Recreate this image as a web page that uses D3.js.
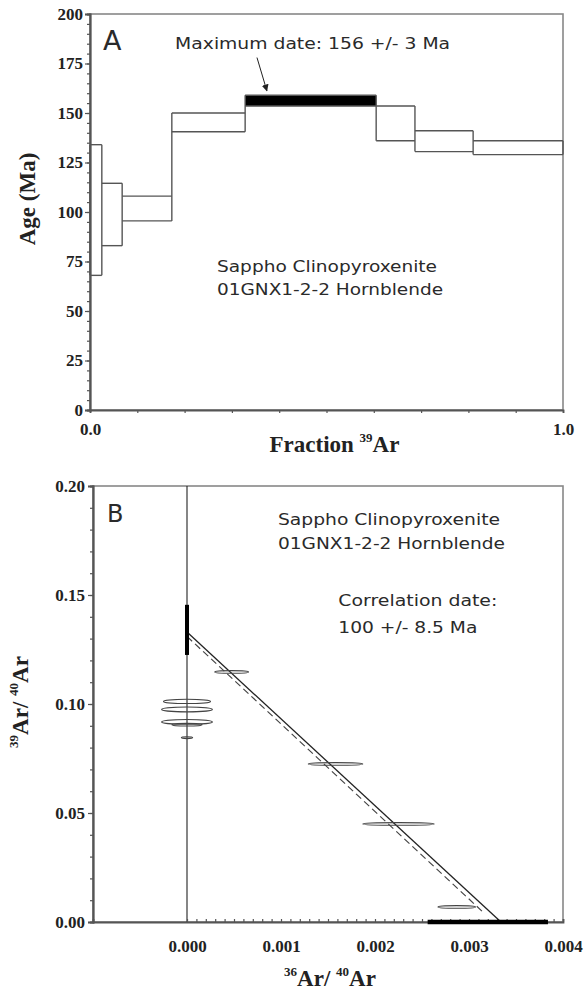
<!DOCTYPE html>
<html>
<head>
<meta charset="utf-8">
<script src="https://cdn.jsdelivr.net/npm/d3@7"></script>
<style>
body { margin: 0; background: #fff; }
svg { display: block; }
.serif { font-family: "Liberation Serif", "Times New Roman", serif; font-weight: bold; fill: #222; }
.note { font-family: "DejaVu Sans", "Noto Sans", sans-serif; fill: #2a2a2a; }
</style>
</head>
<body>
<script>
// ===== A: age spectrum =====
const stepEdges = [0, 0.025, 0.068, 0.173, 0.328, 0.605, 0.687, 0.810, 1.0];
const ageHigh = [134, 114.5, 108, 150, 159, 153.5, 141, 136];
const ageLow = [68, 83, 95.5, 140.5, 153.5, 136, 130.5, 129];
const plateauStep = 4;
const ageTicks = [0, 25, 50, 75, 100, 125, 150, 175, 200];
const fracTicks = d3.range(11).map(i => i / 10);
const fracLabels = [0, 1];

// ===== B: isochron correlation =====
const isoX = [0, 0, 0, 0, 0, 0.000475, 0.00158, 0.00225, 0.00287];
const isoY = [0.1012, 0.0975, 0.0918, 0.0905, 0.0845, 0.1147, 0.0725, 0.045, 0.0069];
const isoXErr = [0.00025, 0.00027, 0.00027, 0.00016, 0.00006, 0.00018, 0.00029, 0.00038, 0.0002];
const isoYErr = [0.0010, 0.0011, 0.0011, 0.0006, 0.0004, 0.0006, 0.0006, 0.0006, 0.0006];
const fitX = [0, 0.00334];
const fitY = [0.133, 0];
const refX = [0, 0.00315];
const refY = [0.131, 0.0045];
const yInterceptRange = [0.1225, 0.1455];
const xInterceptRange = [0.00256, 0.00384];
const ratioYTicks = [0, 0.05, 0.10, 0.15, 0.20];
const ratioXTicks = [0, 0.001, 0.002, 0.003, 0.004];

let svg = d3.select("body").append("svg")
    .attr("width", 586)
    .attr("height", 993);

svg.append("defs").append("marker")
    .attr("id", "arrow")
    .attr("viewBox", "0 0 10 10")
    .attr("refX", 9).attr("refY", 5)
    .attr("markerWidth", 7).attr("markerHeight", 7)
    .attr("orient", "auto")
    .append("path")
    .attr("d", "M0,0 L10,5 L0,10 Z")
    .attr("fill", "#222");

function styleAxis(g, size) {
    g.select(".domain").attr("stroke", "#555").attr("stroke-width", 1.8);
    g.selectAll(".tick line").attr("stroke", "#555").attr("stroke-width", 1.2);
    g.selectAll("text").attr("class", "serif").attr("font-size", size);
}

// ----- panel A -----
let xA = d3.scaleLinear().domain([0, 1]).range([90, 563]);
let yA = d3.scaleLinear().domain([0, 200]).range([410, 14]);

svg.append("rect")
    .attr("x", xA(0)).attr("y", yA(200))
    .attr("width", xA(1) - xA(0)).attr("height", yA(0) - yA(200))
    .attr("fill", "none").attr("stroke", "#888").attr("stroke-width", 1.6);

let steps = ageHigh.map((h, i) => ({x0: stepEdges[i], x1: stepEdges[i + 1], hi: h, lo: ageLow[i], plateau: i == plateauStep}));

// plateau step filled
svg.append("g").selectAll("rect")
    .data(steps.filter(d => d.plateau))
    .join("rect")
    .attr("x", d => xA(d.x0))
    .attr("y", d => yA(d.hi))
    .attr("width", d => xA(d.x1) - xA(d.x0))
    .attr("height", d => yA(d.lo) - yA(d.hi))
    .attr("fill", "#000");

// upper and lower step lines
let stepLines = svg.append("g").attr("stroke", "#555").attr("stroke-width", 1.4);
["hi", "lo"].forEach(k => {
    stepLines.selectAll("line." + k)
        .data(steps)
        .join("line")
        .attr("class", k)
        .attr("x1", d => xA(d.x0)).attr("x2", d => xA(d.x1))
        .attr("y1", d => yA(d[k])).attr("y2", d => yA(d[k]));
});

// vertical connectors at every step edge
let edges = stepEdges.map((e, i) => {
    let a = steps[i - 1], b = steps[i];
    let lo = d3.min([a, b].filter(Boolean), d => d.lo);
    let hi = d3.max([a, b].filter(Boolean), d => d.hi);
    return {x: e, lo: lo, hi: hi};
});
stepLines.selectAll("line.edge")
    .data(edges)
    .join("line")
    .attr("class", "edge")
    .attr("x1", d => xA(d.x)).attr("x2", d => xA(d.x))
    .attr("y1", d => yA(d.lo)).attr("y2", d => yA(d.hi));

// minor ticks
svg.append("g").attr("transform", `translate(${xA(0)},0)`)
    .call(d3.axisLeft(yA).tickValues(d3.range(0, 201, 5)).tickSize(3).tickFormat(""))
    .call(g => styleAxis(g, 17));

svg.append("g").attr("transform", `translate(${xA(0)},0)`)
    .call(d3.axisLeft(yA).tickValues(ageTicks).tickSize(5).tickPadding(2).tickFormat(d3.format("d")))
    .call(g => styleAxis(g, 17));

svg.append("g").attr("transform", `translate(0,${yA(0)})`)
    .call(d3.axisBottom(xA).tickValues(fracTicks).tickSize(3).tickPadding(10)
        .tickFormat(d => fracLabels.includes(d) ? d3.format(".1f")(d) : ""))
    .call(g => styleAxis(g, 17));

svg.append("text")
    .attr("class", "serif").attr("font-size", 23)
    .attr("text-anchor", "middle")
    .attr("transform", `translate(35,${(yA(0) + yA(200)) / 2 - 13}) rotate(-90)`)
    .text("Age (Ma)");

let fracTitle = svg.append("text")
    .attr("class", "serif").attr("font-size", 23)
    .attr("text-anchor", "middle")
    .attr("x", xA(0.5) + 8).attr("y", 452);
fracTitle.append("tspan").text("Fraction ");
fracTitle.append("tspan").attr("font-size", 13).attr("dy", -10).text("39");
fracTitle.append("tspan").attr("dy", 10).text("Ar");

// notes A
svg.append("text").attr("class", "note").attr("font-size", 27)
    .attr("x", xA(0.0275)).attr("y", yA(181.8)).text("A");
svg.append("text").attr("class", "note").attr("font-size", 16)
    .attr("x", xA(0.18)).attr("y", yA(182.3))
    .attr("textLength", 275).attr("lengthAdjust", "spacingAndGlyphs")
    .text("Maximum date: 156 +/- 3 Ma");
svg.append("line")
    .attr("x1", xA(0.353)).attr("y1", yA(178))
    .attr("x2", xA(0.374)).attr("y2", yA(161.2))
    .attr("stroke", "#222").attr("stroke-width", 1)
    .attr("marker-end", "url(#arrow)");
svg.append("text").attr("class", "note").attr("font-size", 16)
    .attr("x", xA(0.2685)).attr("y", yA(69.7))
    .attr("textLength", 220).attr("lengthAdjust", "spacingAndGlyphs")
    .text("Sappho Clinopyroxenite");
svg.append("text").attr("class", "note").attr("font-size", 16)
    .attr("x", xA(0.2685)).attr("y", yA(58.1))
    .attr("textLength", 226).attr("lengthAdjust", "spacingAndGlyphs")
    .text("01GNX1-2-2 Hornblende");

// ----- panel B -----
let xB = d3.scaleLinear().domain([-0.001, 0.004]).range([93, 563]);
let yB = d3.scaleLinear().domain([0, 0.2]).range([922, 486]);

svg.append("rect")
    .attr("x", xB(-0.001)).attr("y", yB(0.2))
    .attr("width", xB(0.004) - xB(-0.001)).attr("height", yB(0) - yB(0.2))
    .attr("fill", "none").attr("stroke", "#888").attr("stroke-width", 1.6);

// zero line
svg.append("line")
    .attr("x1", xB(0)).attr("x2", xB(0))
    .attr("y1", yB(0)).attr("y2", yB(0.2))
    .attr("stroke", "#222").attr("stroke-width", 1.1);

svg.append("g").attr("transform", `translate(${xB(-0.001)},0)`)
    .call(d3.axisLeft(yB).tickValues(d3.range(21).map(i => i / 100)).tickSize(3).tickFormat(""))
    .call(g => styleAxis(g, 17));

svg.append("g").attr("transform", `translate(${xB(-0.001)},0)`)
    .call(d3.axisLeft(yB).tickValues(ratioYTicks).tickSize(5).tickPadding(3).tickFormat(d3.format(".2f")))
    .call(g => styleAxis(g, 17));

svg.append("g").attr("transform", `translate(0,${yB(0)})`)
    .call(d3.axisBottom(xB).tickValues(d3.range(41).map(i => i / 10000)).tickSize(-3).tickFormat(""))
    .call(g => styleAxis(g, 17));

svg.append("g").attr("transform", `translate(0,${yB(0)})`)
    .call(d3.axisBottom(xB).tickValues(ratioXTicks).tickSize(0).tickPadding(18).tickFormat(d3.format(".3f")))
    .call(g => styleAxis(g, 17))
    .call(g => g.select(".domain").remove());

let line = d3.line().x(d => xB(d[0])).y(d => yB(d[1]));

svg.append("path")
    .attr("d", line(d3.zip(refX, refY)))
    .attr("fill", "none").attr("stroke", "#444").attr("stroke-width", 1.2)
    .attr("stroke-dasharray", "7,4");

svg.append("path")
    .attr("d", line(d3.zip(fitX, fitY)))
    .attr("fill", "none").attr("stroke", "#222").attr("stroke-width", 1.3);

svg.append("g").selectAll("ellipse")
    .data(d3.range(isoX.length))
    .join("ellipse")
    .attr("cx", i => xB(isoX[i]))
    .attr("cy", i => yB(isoY[i]))
    .attr("rx", i => xB(isoX[i] + isoXErr[i]) - xB(isoX[i]))
    .attr("ry", i => yB(isoY[i] - isoYErr[i]) - yB(isoY[i]))
    .attr("fill", "none").attr("stroke", "#444").attr("stroke-width", 1.1);

// intercept error bars
svg.append("line")
    .attr("x1", xB(0)).attr("x2", xB(0))
    .attr("y1", yB(yInterceptRange[0])).attr("y2", yB(yInterceptRange[1]))
    .attr("stroke", "#000").attr("stroke-width", 4);
svg.append("line")
    .attr("x1", xB(xInterceptRange[0])).attr("x2", xB(xInterceptRange[1]))
    .attr("y1", yB(0)).attr("y2", yB(0))
    .attr("stroke", "#000").attr("stroke-width", 4.5);

let yTitle = svg.append("text")
    .attr("class", "serif").attr("font-size", 23)
    .attr("text-anchor", "middle")
    .attr("transform", `translate(28,702) rotate(-90)`);
yTitle.append("tspan").attr("font-size", 13).attr("dy", -10).text("39");
yTitle.append("tspan").attr("dy", 10).text("Ar/ ");
yTitle.append("tspan").attr("font-size", 13).attr("dy", -10).text("40");
yTitle.append("tspan").attr("dy", 10).text("Ar");

let xTitle = svg.append("text")
    .attr("class", "serif").attr("font-size", 23)
    .attr("text-anchor", "middle")
    .attr("x", 330).attr("y", 986);
xTitle.append("tspan").attr("font-size", 13).attr("dy", -10).text("36");
xTitle.append("tspan").attr("dy", 10).text("Ar/ ");
xTitle.append("tspan").attr("font-size", 13).attr("dy", -10).text("40");
xTitle.append("tspan").attr("dy", 10).text("Ar");

// notes B
svg.append("text").attr("class", "note").attr("font-size", 24)
    .attr("x", xB(-0.00085)).attr("y", yB(0.1835)).text("B");
svg.append("text").attr("class", "note").attr("font-size", 16)
    .attr("x", xB(0.000968)).attr("y", yB(0.1821))
    .attr("textLength", 222).attr("lengthAdjust", "spacingAndGlyphs")
    .text("Sappho Clinopyroxenite");
svg.append("text").attr("class", "note").attr("font-size", 16)
    .attr("x", xB(0.000968)).attr("y", yB(0.1711))
    .attr("textLength", 227).attr("lengthAdjust", "spacingAndGlyphs")
    .text("01GNX1-2-2 Hornblende");
svg.append("text").attr("class", "note").attr("font-size", 16)
    .attr("x", xB(0.00161)).attr("y", yB(0.145))
    .attr("textLength", 159).attr("lengthAdjust", "spacingAndGlyphs")
    .text("Correlation date:");
svg.append("text").attr("class", "note").attr("font-size", 16)
    .attr("x", xB(0.00161)).attr("y", yB(0.1326))
    .attr("textLength", 139).attr("lengthAdjust", "spacingAndGlyphs")
    .text("100 +/- 8.5 Ma");
</script>
</body>
</html>
